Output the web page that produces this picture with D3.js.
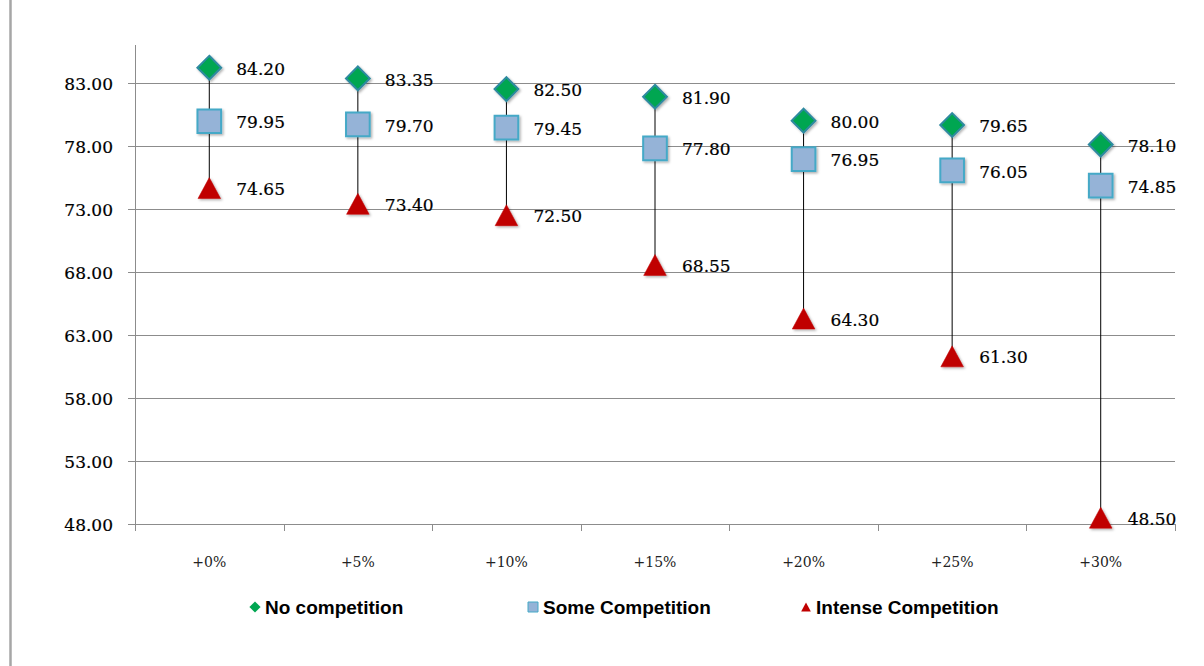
<!DOCTYPE html>
<html>
<head>
<meta charset="utf-8">
<script src="https://cdn.jsdelivr.net/npm/d3@7"></script>
<style>
  body { margin: 0; background: #fff; }
  svg { display: block; }
  .num { paint-order: stroke; stroke: #000; stroke-width: 0.2px; }
</style>
</head>
<body>
<svg width="1204" height="666"></svg>
<script>
const categories = ["+0%", "+5%", "+10%", "+15%", "+20%", "+25%", "+30%"];
const noCompetition = [84.2, 83.35, 82.5, 81.9, 80.0, 79.65, 78.1];
const someCompetition = [79.95, 79.7, 79.45, 77.8, 76.95, 76.05, 74.85];
const intenseCompetition = [74.65, 73.4, 72.5, 68.55, 64.3, 61.3, 48.5];
const yTicks = [48, 53, 58, 63, 68, 73, 78, 83];
const seriesNames = ["No competition", "Some Competition", "Intense Competition"];

const svg = d3.select("svg");
const plotLeft = 135, plotRight = 1175, plotTop = 45, plotBottom = 524;

const x = d3.scaleBand().domain(categories).range([plotLeft, plotRight]);
const y = d3.scaleLinear().domain([48, 86]).range([plotBottom, plotTop]);

// drop shadow for markers
const defs = svg.append("defs");
const f = defs.append("filter").attr("id", "shadow")
  .attr("x", "-50%").attr("y", "-50%").attr("width", "200%").attr("height", "200%");
f.append("feDropShadow").attr("dx", 1.5).attr("dy", 1.5).attr("stdDeviation", 1.2)
  .attr("flood-color", "#000").attr("flood-opacity", 0.3);

// triangle that sits centred on its value, a bit wider than equilateral
const triangleSym = {
  draw(ctx, size) {
    const h = Math.sqrt(size) / 2;
    ctx.moveTo(0, -h);
    ctx.lineTo(h * 1.08, h);
    ctx.lineTo(-h * 1.08, h);
    ctx.closePath();
  }
};

// outer left border
svg.append("line")
  .attr("x1", 10.5).attr("x2", 10.5).attr("y1", 0).attr("y2", 666)
  .attr("stroke", "#a6a6a6").attr("stroke-width", 2.5);

// gridlines
svg.append("g")
  .selectAll("line")
  .data(yTicks)
  .enter()
  .append("line")
  .attr("x1", plotLeft - 7).attr("x2", plotRight)
  .attr("y1", (d) => Math.round(y(d)) + 0.5)
  .attr("y2", (d) => Math.round(y(d)) + 0.5)
  .attr("stroke", "#8c8c8c").attr("stroke-width", 1);

// y axis line
svg.append("line")
  .attr("x1", plotLeft + 0.5).attr("x2", plotLeft + 0.5)
  .attr("y1", plotTop).attr("y2", plotBottom + 7)
  .attr("stroke", "#8c8c8c");

// x ticks
const xEdges = categories.map((c) => x(c)).concat([plotRight]);
svg.append("g")
  .selectAll("line")
  .data(xEdges)
  .enter()
  .append("line")
  .attr("x1", (d) => Math.round(d) + 0.5).attr("x2", (d) => Math.round(d) + 0.5)
  .attr("y1", plotBottom).attr("y2", plotBottom + 7)
  .attr("stroke", "#8c8c8c");

// y labels
svg.append("g")
  .selectAll("text")
  .data(yTicks)
  .enter()
  .append("text")
  .attr("class", "num")
  .attr("x", 113)
  .attr("y", (d) => y(d) + 1)
  .attr("dy", "0.36em")
  .attr("text-anchor", "end")
  .attr("font-family", "DejaVu Serif")
  .attr("font-size", 17)
  .attr("fill", "#000")
  .text((d) => d.toFixed(2));

// x labels
svg.append("g")
  .selectAll("text")
  .data(categories)
  .enter()
  .append("text")
  .attr("x", (d) => x(d) + x.bandwidth() / 2)
  .attr("y", 567)
  .attr("text-anchor", "middle")
  .attr("font-family", "DejaVu Serif")
  .attr("font-size", 14)
  .attr("fill", "#222")
  .text((d) => d);

const rows = categories.map((c, i) => ({
  cat: c,
  vals: [noCompetition[i], someCompetition[i], intenseCompetition[i]]
}));

// high-low lines
svg.append("g")
  .selectAll("line")
  .data(rows)
  .enter()
  .append("line")
  .attr("x1", (d) => x(d.cat) + x.bandwidth() / 2)
  .attr("x2", (d) => x(d.cat) + x.bandwidth() / 2)
  .attr("y1", (d) => y(d3.max(d.vals)))
  .attr("y2", (d) => y(d3.min(d.vals)))
  .attr("stroke", "#000").attr("stroke-width", 1);

// marker styles
const markers = [
  { type: d3.symbolDiamond2, size: 360, fill: "#00a651", stroke: "#2f8aa0", sw: 2 },
  { type: d3.symbolSquare, size: 560, fill: "#95b3d7", stroke: "#45a9c7", sw: 2 },
  { type: triangleSym, size: 440, fill: "#c00000", stroke: "#c00000", sw: 0.5 }
];
const seriesData = [noCompetition, someCompetition, intenseCompetition];

seriesData.forEach((vals, s) => {
  const m = markers[s];
  const g = svg.append("g");
  g.selectAll("path")
    .data(vals)
    .enter()
    .append("path")
    .attr("d", d3.symbol().type(m.type).size(m.size))
    .attr("transform", (d, i) => `translate(${x(categories[i]) + x.bandwidth() / 2},${y(d)})`)
    .attr("fill", m.fill)
    .attr("stroke", m.stroke)
    .attr("stroke-width", m.sw)
    .attr("filter", "url(#shadow)");

  g.selectAll("text")
    .data(vals)
    .enter()
    .append("text")
    .attr("class", "num")
    .attr("x", (d, i) => x(categories[i]) + x.bandwidth() / 2 + 27)
    .attr("y", (d) => y(d) + 1)
    .attr("dy", "0.36em")
    .attr("font-family", "DejaVu Serif")
    .attr("font-size", 17)
    .attr("fill", "#000")
    .text((d) => d.toFixed(2));
});

// legend
const legendX = [255, 533, 806];
const legend = svg.append("g");
seriesNames.forEach((name, s) => {
  const m = markers[s];
  legend.append("path")
    .attr("d", d3.symbol().type(m.type).size(s === 1 ? 100 : 80))
    .attr("transform", `translate(${legendX[s]},${607})`)
    .attr("fill", m.fill)
    .attr("stroke", s === 1 ? m.stroke : "none")
    .attr("stroke-width", 1);
  legend.append("text")
    .attr("x", legendX[s] + 10)
    .attr("y", 607)
    .attr("dy", "0.36em")
    .attr("font-family", "Liberation Sans Narrow, Liberation Sans, sans-serif")
    .attr("font-size", 19)
    .attr("font-weight", "bold")
    .attr("fill", "#000")
    .text(name);
});
</script>
</body>
</html>
